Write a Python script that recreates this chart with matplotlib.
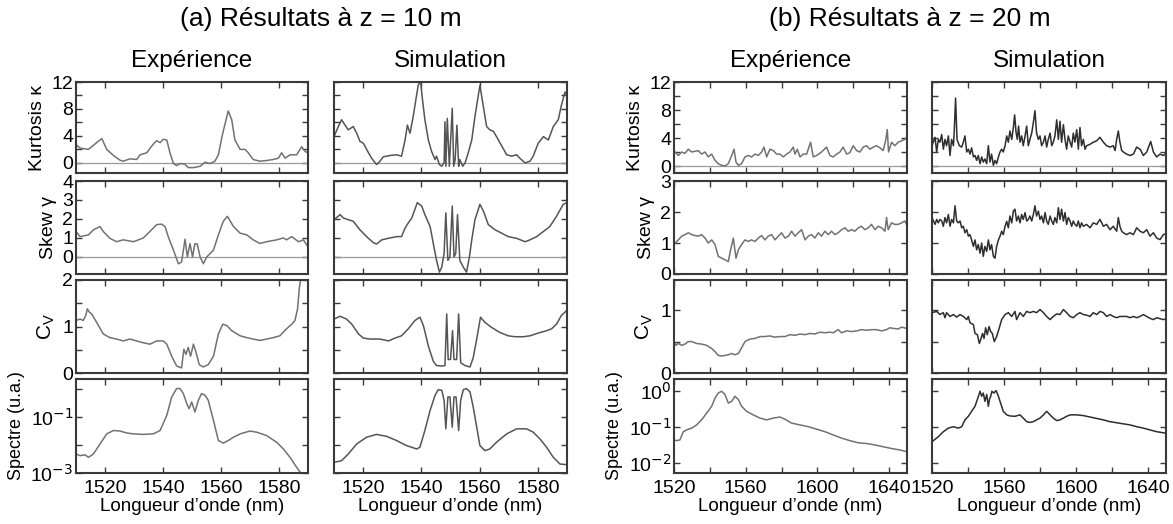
import matplotlib
matplotlib.use("Agg")
import matplotlib.pyplot as plt
import numpy as np

plt.rcParams['font.family'] = ['Liberation Sans', 'DejaVu Sans']

# ---------------- (a) z = 10 m, experiment ----------------
kurt_a_exp_x = [1510.0, 1511.4, 1514.3, 1517.1, 1518.9, 1520.6, 1522.9, 1525.2, 1526.3, 1528.6,
                1530.9, 1532.1, 1534.4, 1536.1, 1537.8, 1539.0, 1540.1, 1541.3, 1542.4, 1543.6,
                1544.7, 1545.9, 1547.6, 1548.7, 1550.5, 1552.8, 1554.5, 1556.2, 1557.9, 1559.1,
                1560.6, 1562.5, 1563.7, 1564.8, 1566.6, 1568.3, 1569.4, 1571.1, 1573.4, 1575.7,
                1578.0, 1579.8, 1580.9, 1582.1, 1583.8, 1586.1, 1587.8, 1589.0, 1590.0]
kurt_a_exp_y = [2.7, 2.2, 2.0, 3.0, 3.6, 2.0, 1.1, 0.4, 0.25, 0.6,
                0.5, 1.2, 1.5, 2.5, 3.3, 3.0, 3.5, 3.4, 1.5, -0.1,
                -0.4, -0.1, -0.2, -0.7, -0.7, -0.5, 0.1, -0.1, 0.25, 1.2,
                4.4, 7.7, 6.4, 3.4, 2.0, 2.0, 1.5, 0.5, 0.25, 0.35,
                0.5, 0.7, 1.5, 0.7, 1.2, 1.2, 2.4, 1.7, 1.5]

skew_a_exp_x = [1510.0, 1511.4, 1514.3, 1516.0, 1518.3, 1519.4, 1521.7, 1524.0, 1526.3, 1529.8,
                1533.2, 1535.5, 1537.8, 1539.5, 1540.7, 1541.8, 1543.6, 1545.3, 1546.4, 1547.6,
                1548.4, 1549.3, 1550.2, 1551.0, 1551.8, 1552.8, 1553.9, 1555.1, 1557.4, 1559.1,
                1560.8, 1562.2, 1564.3, 1566.6, 1568.9, 1571.1, 1573.4, 1575.7, 1579.2, 1581.5,
                1582.6, 1584.4, 1586.7, 1588.4, 1590.0]
skew_a_exp_y = [1.34, 1.07, 1.16, 1.43, 1.6, 1.34, 0.98, 0.8, 0.9, 0.8,
                1.0, 1.34, 1.7, 1.73, 1.6, 1.07, 0.36, -0.36, -0.27, 0.93,
                0.0, 0.7, 0.0, 0.7, 0.68, 0.0, -0.36, 0.0, 0.36, 1.16,
                1.88, 2.14, 1.6, 1.25, 1.16, 0.9, 0.71, 0.8, 0.9, 1.0,
                0.9, 1.07, 0.8, 0.9, 0.53]

cv_a_exp_x = [1510.0, 1511.4, 1512.5, 1513.4, 1513.9, 1514.6, 1515.4, 1517.1, 1519.4, 1521.7,
              1524.0, 1526.3, 1528.6, 1530.9, 1533.2, 1535.5, 1537.8, 1540.1, 1541.3, 1543.0,
              1544.7, 1546.4, 1547.2, 1547.9, 1548.7, 1549.5, 1550.5, 1551.4, 1552.5, 1553.9,
              1555.6, 1557.4, 1559.1, 1560.6, 1562.0, 1563.7, 1566.6, 1568.9, 1571.1, 1573.4,
              1575.7, 1578.0, 1580.3, 1582.6, 1584.4, 1585.5, 1586.4, 1587.0, 1587.5]
cv_a_exp_y = [1.13, 1.16, 1.13, 1.24, 1.38, 1.31, 1.27, 1.09, 0.84, 0.76,
              0.73, 0.69, 0.73, 0.69, 0.65, 0.62, 0.69, 0.69, 0.62, 0.36,
              0.15, 0.11, 0.51, 0.4, 0.55, 0.36, 0.62, 0.44, 0.18, 0.13,
              0.18, 0.36, 0.84, 1.05, 1.02, 0.91, 0.8, 0.76, 0.73, 0.7,
              0.73, 0.76, 0.8, 0.95, 1.05, 1.13, 1.38, 1.82, 2.03]

spec_a_exp_x = [1510.0, 1511.4, 1513.1, 1514.3, 1516.0, 1518.3, 1520.6, 1522.9, 1525.2, 1527.5,
                1529.8, 1533.2, 1536.7, 1539.0, 1541.3, 1543.0, 1544.7, 1545.9, 1547.0, 1548.2,
                1549.0, 1549.9, 1551.0, 1552.2, 1553.3, 1554.5, 1555.6, 1557.4, 1559.1, 1560.8,
                1562.5, 1564.3, 1566.6, 1570.0, 1572.3, 1575.7, 1579.2, 1581.5, 1583.8, 1586.1,
                1587.8]
spec_a_exp_log = [-2.32, -2.38, -2.35, -2.44, -2.32, -1.96, -1.6, -1.48, -1.5, -1.57,
                  -1.6, -1.62, -1.6, -1.48, -0.94, -0.28, 0.02, 0.02, -0.16, -0.52,
                  -0.7, -0.46, -0.82, -0.4, -0.16, -0.22, -0.4, -1.12, -1.84, -1.93,
                  -1.84, -1.72, -1.6, -1.5, -1.54, -1.66, -1.9, -2.14, -2.44, -2.8,
                  -3.04]

# ---------------- (a) z = 10 m, simulation ----------------
kurt_a_sim_x = [1510.0, 1511.5, 1512.6, 1513.8, 1514.9, 1516.6, 1517.8, 1518.9, 1520.1, 1521.2,
                1522.9, 1524.6, 1525.8, 1526.9, 1529.2, 1531.5, 1533.2, 1534.4, 1535.2, 1536.1,
                1537.2, 1538.9, 1539.7, 1540.4, 1541.2, 1542.4, 1543.5, 1544.7, 1545.2, 1546.2,
                1547.0, 1547.8, 1548.1, 1548.4, 1548.9, 1549.6, 1550.6, 1551.1, 1551.6, 1552.2,
                1552.8, 1553.2, 1554.2, 1555.0, 1556.1, 1557.3, 1558.4, 1560.1, 1561.3, 1562.4,
                1563.5, 1564.7, 1565.8, 1567.6, 1569.3, 1571.0, 1572.7, 1573.8, 1575.6, 1577.3,
                1578.4, 1580.1, 1581.9, 1583.6, 1585.3, 1587.0, 1588.1, 1589.3, 1590.0]
kurt_a_sim_y = [3.9, 5.4, 6.4, 5.6, 4.9, 5.4, 4.4, 3.2, 2.9, 2.0,
                0.7, -0.25, 0.25, 0.9, 1.1, 1.2, 1.0, 3.4, 5.6, 4.4,
                6.9, 11.5, 12.2, 9.3, 6.4, 3.4, 1.7, 0.5, 1.0, -0.25,
                -0.5, 0.0, 6.1, -0.5, 6.6, -0.5, 8.1, -0.5, 0.5, 5.6,
                -0.5, 0.5, -0.5, 0.0, 1.5, 3.4, 6.9, 11.5, 8.3, 5.4,
                4.9, 4.7, 3.9, 2.5, 1.2, 1.0, 1.2, 0.7, 0.0, 0.25,
                1.0, 2.9, 3.9, 3.4, 5.4, 6.4, 8.6, 10.5, 10.0]

skew_a_sim_x = [1510.0, 1512.1, 1513.2, 1514.9, 1516.6, 1518.9, 1521.2, 1523.5, 1524.6, 1526.4,
                1528.7, 1531.5, 1533.2, 1534.4, 1535.5, 1536.7, 1538.6, 1540.1, 1541.2, 1543.0,
                1544.3, 1545.2, 1546.2, 1547.0, 1547.8, 1548.4, 1549.1, 1549.8, 1550.6, 1551.2,
                1551.8, 1552.4, 1553.2, 1554.4, 1555.5, 1556.5, 1557.3, 1558.4, 1560.1, 1561.3,
                1563.0, 1565.3, 1567.6, 1569.8, 1572.7, 1575.6, 1577.3, 1579.6, 1581.9, 1584.1,
                1586.4, 1588.7, 1590.0]
skew_a_sim_y = [1.96, 2.23, 2.05, 1.96, 1.88, 1.43, 1.07, 0.75, 0.68, 0.9,
                0.98, 1.07, 1.07, 1.52, 1.79, 2.05, 2.86, 2.68, 2.23, 1.6,
                0.54, -0.18, -0.8, -0.54, 0.18, 2.32, -0.18, 0.0, 2.68, 0.0,
                0.18, 2.23, -0.18, -0.54, -0.8, 0.0, 0.9, 1.96, 2.77, 2.41,
                1.7, 1.43, 1.25, 1.07, 0.98, 0.8, 0.9, 1.07, 1.34, 1.6,
                2.14, 2.77, 2.86]

cv_a_sim_x = [1510.0, 1512.1, 1514.3, 1516.1, 1518.4, 1520.1, 1522.4, 1525.8, 1528.7, 1530.9,
              1533.2, 1535.5, 1537.8, 1539.5, 1540.7, 1542.4, 1544.1, 1545.2, 1547.0, 1548.1,
              1548.7, 1549.2, 1550.0, 1550.7, 1551.2, 1552.1, 1552.8, 1553.5, 1555.0, 1556.7,
              1557.8, 1559.0, 1560.3, 1561.8, 1564.1, 1567.0, 1569.8, 1572.1, 1575.0, 1577.3,
              1580.7, 1583.0, 1584.7, 1586.4, 1588.1, 1590.0]
cv_a_sim_y = [1.16, 1.22, 1.16, 1.05, 0.84, 0.75, 0.73, 0.73, 0.69, 0.75,
              0.8, 0.95, 1.13, 1.2, 1.02, 0.58, 0.25, 0.16, 0.15, 0.16,
              1.27, 0.29, 0.29, 0.91, 0.29, 0.29, 1.27, 0.22, 0.16, 0.13,
              0.33, 0.73, 1.2, 1.09, 0.98, 0.87, 0.8, 0.78, 0.78, 0.8,
              0.87, 0.91, 0.95, 1.05, 1.24, 1.35]

spec_a_sim_x = [1510.0, 1512.6, 1514.9, 1517.8, 1521.2, 1524.6, 1528.1, 1531.5, 1534.9, 1538.4,
                1539.5, 1541.2, 1543.0, 1544.7, 1545.8, 1547.0, 1547.8, 1548.4, 1549.1, 1549.8,
                1550.6, 1551.2, 1551.9, 1552.8, 1553.5, 1554.4, 1555.5, 1556.7, 1557.8, 1559.0,
                1560.1, 1561.8, 1563.5, 1565.8, 1569.3, 1572.7, 1576.1, 1578.4, 1580.7, 1583.0,
                1585.3, 1587.6, 1590.0]
spec_a_sim_log = [-2.62, -2.56, -2.32, -1.96, -1.72, -1.62, -1.69, -1.84, -2.02, -2.14,
                  -2.08, -1.48, -0.76, -0.22, -0.02, -0.04, -0.4, -1.42, -0.28, -0.28,
                  -1.36, -0.28, -0.28, -1.48, -0.4, -0.02, 0.02, -0.1, -0.64, -1.36,
                  -2.02, -2.2, -2.14, -1.9, -1.6, -1.42, -1.42, -1.54, -1.78, -2.08,
                  -2.44, -2.68, -2.7]

# ---------------- (b) z = 20 m, experiment ----------------
kurt_b_exp_x = [1520.6, 1522.4, 1524.3, 1526.1, 1528.0, 1529.9, 1531.7, 1533.6, 1535.4, 1537.3,
                1539.1, 1541.0, 1542.9, 1544.7, 1546.6, 1548.4, 1550.3, 1552.2, 1553.5, 1554.6,
                1555.9, 1557.7, 1559.6, 1561.4, 1563.3, 1565.2, 1567.0, 1568.9, 1570.2, 1571.7,
                1573.5, 1575.4, 1577.2, 1579.1, 1581.0, 1582.8, 1584.7, 1586.5, 1587.5, 1588.8,
                1590.3, 1592.1, 1594.0, 1596.2, 1597.7, 1599.6, 1602.3, 1605.1, 1607.0, 1608.8,
                1610.7, 1612.6, 1614.4, 1616.3, 1618.1, 1620.0, 1621.9, 1623.7, 1625.6, 1627.4,
                1629.3, 1631.2, 1633.0, 1634.9, 1636.7, 1638.2, 1639.0, 1639.7, 1641.4, 1643.2,
                1645.1, 1647.0, 1648.8, 1649.7]
kurt_b_exp_y = [2.0, 1.5, 2.0, 1.8, 2.4, 2.0, 2.1, 2.2, 1.7, 2.0,
                1.3, 1.7, 0.8, 0.33, 0.1, 0.0, 0.33, 1.5, 2.4, 0.56,
                0.1, 0.33, 1.3, 1.5, 1.3, 1.7, 1.5, 2.0, 2.7, 1.3,
                2.4, 2.2, 1.7, 1.7, 1.3, 1.7, 2.0, 2.7, 1.7, 2.4,
                1.3, 1.7, 1.7, 3.4, 1.3, 1.5, 2.0, 2.7, 1.5, 1.3,
                1.7, 2.0, 2.7, 1.7, 1.9, 2.9, 2.2, 2.0, 2.7, 2.9,
                2.4, 2.7, 2.9, 2.6, 2.2, 3.8, 5.2, 2.0, 3.4, 2.9,
                3.4, 3.6, 3.8, 4.1]

skew_b_exp_x = [1520.6, 1522.4, 1524.3, 1526.1, 1528.0, 1529.9, 1531.7, 1533.6, 1535.4, 1537.3,
                1539.1, 1541.0, 1542.9, 1544.7, 1546.6, 1548.4, 1550.3, 1551.6, 1553.1, 1554.6,
                1555.9, 1557.7, 1559.6, 1561.4, 1563.3, 1565.2, 1567.0, 1568.9, 1570.7, 1572.6,
                1574.5, 1576.3, 1578.2, 1580.0, 1581.9, 1583.8, 1585.6, 1587.5, 1589.3, 1591.2,
                1593.1, 1594.9, 1596.8, 1598.6, 1600.5, 1602.3, 1604.2, 1606.1, 1607.9, 1609.8,
                1611.6, 1613.5, 1615.4, 1617.2, 1619.1, 1620.9, 1622.8, 1624.6, 1626.5, 1628.4,
                1630.2, 1632.1, 1633.9, 1635.8, 1637.7, 1638.6, 1639.5, 1641.4, 1643.2, 1645.1,
                1647.0, 1648.8, 1649.7]
skew_b_exp_y = [1.0, 1.1, 1.22, 1.27, 1.33, 1.27, 1.24, 1.22, 1.27, 1.16,
                1.0, 1.1, 0.95, 0.57, 0.51, 0.46, 0.4, 0.78, 1.16, 0.51,
                0.78, 0.95, 1.1, 1.05, 1.1, 1.05, 1.16, 1.24, 1.1, 1.22,
                1.27, 1.1, 1.22, 1.33, 1.16, 1.22, 1.38, 1.22, 1.33, 1.43,
                1.1, 1.22, 1.27, 1.16, 1.33, 1.22, 1.38, 1.27, 1.38, 1.27,
                1.33, 1.43, 1.49, 1.38, 1.43, 1.38, 1.49, 1.54, 1.43, 1.49,
                1.6, 1.43, 1.54, 1.49, 1.38, 1.82, 1.43, 1.65, 1.6, 1.6,
                1.65, 1.71, 1.6]

cv_b_exp_x = [1520.0, 1521.1, 1522.4, 1524.3, 1526.1, 1528.0, 1529.9, 1532.6, 1535.4, 1538.2,
              1541.0, 1542.9, 1544.7, 1546.6, 1548.4, 1550.3, 1552.2, 1554.0, 1555.9, 1557.7,
              1559.6, 1562.4, 1565.2, 1568.0, 1570.7, 1573.5, 1576.3, 1579.1, 1581.9, 1584.7,
              1587.5, 1590.3, 1593.0, 1595.8, 1598.6, 1601.4, 1604.2, 1607.0, 1608.8, 1611.6,
              1613.5, 1616.3, 1619.1, 1621.9, 1624.6, 1627.4, 1630.2, 1633.0, 1635.8, 1638.6,
              1640.4, 1642.3, 1645.1, 1647.0, 1649.7]
cv_b_exp_y = [0.5, 0.44, 0.47, 0.44, 0.46, 0.5, 0.5, 0.47, 0.46, 0.44,
              0.39, 0.34, 0.28, 0.27, 0.28, 0.29, 0.31, 0.29, 0.31, 0.4,
              0.5, 0.54, 0.55, 0.58, 0.58, 0.59, 0.57, 0.58, 0.58, 0.61,
              0.6, 0.62, 0.61, 0.63, 0.62, 0.65, 0.64, 0.65, 0.64, 0.69,
              0.64, 0.67, 0.66, 0.67, 0.69, 0.68, 0.69, 0.69, 0.67, 0.69,
              0.72, 0.71, 0.7, 0.73, 0.71]

spec_b_exp_x = [1520.0, 1521.5, 1523.3, 1525.2, 1527.1, 1529.9, 1532.6, 1535.4, 1538.2, 1541.0,
                1542.9, 1544.7, 1546.6, 1548.4, 1550.3, 1552.2, 1554.0, 1555.9, 1557.7, 1560.5,
                1564.2, 1568.0, 1571.7, 1575.4, 1579.1, 1581.9, 1585.6, 1590.3, 1594.9, 1599.6,
                1604.2, 1608.8, 1613.5, 1618.1, 1622.8, 1627.4, 1632.1, 1636.7, 1641.4, 1646.0,
                1650.0]
spec_b_exp_log = [-1.36, -1.38, -1.36, -1.13, -1.08, -1.03, -0.94, -0.8, -0.61, -0.42,
                  -0.19, -0.05, 0.0, -0.09, -0.33, -0.28, -0.14, -0.23, -0.42, -0.56,
                  -0.66, -0.75, -0.8, -0.75, -0.72, -0.78, -0.89, -0.94, -0.99, -1.06,
                  -1.13, -1.22, -1.31, -1.38, -1.44, -1.46, -1.5, -1.55, -1.6, -1.64,
                  -1.69]

# ---------------- (b) z = 20 m, simulation ----------------
kurt_b_sim_x = [1520.0, 1521.7, 1522.6, 1523.5, 1524.4, 1525.4, 1526.3, 1527.2, 1528.1, 1529.1,
                1530.0, 1530.9, 1531.9, 1532.4, 1533.1, 1533.9, 1535.2, 1536.5, 1537.4, 1538.3,
                1539.3, 1540.2, 1541.1, 1542.0, 1543.0, 1543.9, 1544.8, 1545.7, 1546.7, 1547.6,
                1548.5, 1549.4, 1550.4, 1551.3, 1552.2, 1553.1, 1554.1, 1555.0, 1555.9, 1556.9,
                1557.8, 1558.7, 1559.6, 1560.6, 1561.5, 1562.4, 1563.3, 1564.3, 1565.2, 1565.9,
                1566.7, 1567.4, 1568.1, 1568.9, 1569.8, 1570.7, 1571.7, 1572.6, 1573.5, 1574.4,
                1575.4, 1576.3, 1577.2, 1578.1, 1579.1, 1580.0, 1580.9, 1581.9, 1582.8, 1583.7,
                1584.6, 1585.6, 1586.5, 1587.4, 1588.3, 1589.3, 1590.2, 1591.1, 1592.0, 1593.0,
                1593.9, 1594.8, 1595.7, 1596.7, 1597.6, 1598.5, 1599.4, 1600.4, 1601.3, 1602.2,
                1603.1, 1604.1, 1605.0, 1605.9, 1607.8, 1609.6, 1611.5, 1613.3, 1615.2, 1617.0,
                1618.9, 1620.7, 1621.7, 1622.6, 1623.5, 1624.4, 1625.4, 1626.3, 1628.1, 1630.0,
                1631.9, 1633.7, 1635.6, 1637.4, 1639.3, 1641.5, 1643.0, 1644.8, 1646.7, 1648.5,
                1650.0]
kurt_b_sim_y = [2.9, 4.1, 2.0, 3.8, 3.4, 4.5, 2.4, 3.8, 2.9, 4.3,
                1.5, 3.8, 2.9, 5.2, 9.7, 3.8, 2.9, 2.7, 3.4, 4.3,
                2.0, 2.4, 1.7, 2.6, 1.3, 1.5, 0.8, 1.5, 0.33, 1.3,
                0.56, 1.0, 0.33, 2.9, 0.56, 1.7, 0.1, 0.8, 0.33, 1.3,
                2.0, 2.4, 2.0, 2.9, 4.3, 3.4, 5.0, 3.8, 5.5, 7.3,
                4.8, 3.8, 5.7, 3.4, 4.3, 2.9, 4.3, 5.7, 2.9, 3.8,
                4.7, 6.2, 7.9, 4.7, 3.8, 4.3, 2.9, 3.4, 4.3, 2.7,
                3.8, 4.7, 2.9, 3.4, 4.3, 6.6, 3.8, 6.4, 3.4, 5.9,
                3.8, 2.4, 4.3, 3.4, 2.7, 4.7, 3.4, 5.2, 2.4, 5.5,
                2.9, 3.8, 2.4, 2.9, 3.1, 3.4, 3.6, 4.1, 3.4, 2.9,
                2.7, 2.9, 2.2, 3.8, 5.0, 3.4, 2.2, 2.0, 1.7, 1.5,
                1.7, 2.7, 2.4, 1.5, 2.0, 3.5, 2.0, 1.3, 1.7, 1.5,
                1.8]

skew_b_sim_x = [1520.0, 1521.7, 1522.6, 1523.5, 1524.4, 1525.4, 1526.3, 1527.2, 1528.1, 1529.1,
                1530.0, 1530.9, 1531.9, 1532.8, 1533.7, 1534.6, 1535.6, 1536.5, 1537.4, 1538.3,
                1539.3, 1540.2, 1541.1, 1542.0, 1543.0, 1543.9, 1544.8, 1545.7, 1546.7, 1547.6,
                1548.5, 1549.4, 1550.4, 1551.3, 1552.2, 1553.1, 1554.1, 1555.0, 1555.9, 1556.9,
                1557.8, 1558.7, 1559.6, 1560.6, 1561.5, 1562.4, 1563.3, 1564.3, 1565.2, 1566.1,
                1567.0, 1568.0, 1568.9, 1569.8, 1570.7, 1571.7, 1572.6, 1573.5, 1574.4, 1575.4,
                1576.3, 1577.2, 1578.1, 1579.1, 1580.0, 1580.9, 1581.9, 1582.8, 1583.7, 1584.6,
                1585.6, 1586.5, 1587.4, 1588.3, 1589.3, 1590.2, 1591.1, 1592.0, 1593.0, 1593.9,
                1594.8, 1595.7, 1596.7, 1597.6, 1598.5, 1599.4, 1600.4, 1601.3, 1602.2, 1603.1,
                1604.1, 1605.9, 1607.8, 1609.6, 1611.5, 1613.3, 1614.3, 1615.2, 1617.0, 1618.9,
                1620.7, 1622.6, 1623.5, 1624.4, 1625.4, 1626.3, 1628.1, 1630.0, 1631.9, 1633.7,
                1635.6, 1637.4, 1639.3, 1641.1, 1643.0, 1644.8, 1646.7, 1648.5, 1650.0]
skew_b_sim_y = [1.82, 1.6, 1.76, 1.65, 1.76, 1.71, 1.54, 1.82, 1.65, 1.92,
                1.54, 1.76, 1.65, 2.2, 1.71, 1.65, 1.71, 1.49, 1.54, 1.33,
                1.43, 1.22, 1.27, 1.1, 0.89, 1.1, 0.78, 0.95, 0.67, 1.0,
                0.57, 0.89, 0.73, 1.1, 0.78, 0.95, 0.57, 0.51, 0.89, 1.1,
                1.22, 1.38, 1.27, 1.54, 1.7, 1.49, 1.87, 1.65, 2.03, 2.09,
                1.71, 1.87, 1.65, 1.92, 1.76, 1.98, 1.71, 1.76, 1.87, 1.71,
                1.92, 2.2, 1.87, 2.03, 1.76, 1.87, 1.65, 1.98, 1.71, 1.6,
                1.87, 1.71, 1.6, 1.82, 1.65, 2.14, 1.76, 2.09, 1.71, 1.98,
                1.6, 1.82, 1.71, 1.54, 1.71, 1.6, 1.54, 1.71, 1.49, 1.65,
                1.54, 1.6, 1.49, 1.65, 1.6, 1.76, 1.65, 1.54, 1.6, 1.43,
                1.54, 1.38, 1.82, 1.54, 1.38, 1.33, 1.27, 1.33, 1.27, 1.49,
                1.38, 1.33, 1.43, 1.22, 1.33, 1.16, 1.11, 1.27, 1.3]

cv_b_sim_x = [1520.0, 1522.6, 1524.4, 1526.3, 1527.2, 1528.1, 1530.0, 1531.9, 1533.7, 1535.6,
              1537.4, 1539.3, 1540.2, 1541.1, 1543.0, 1543.9, 1545.2, 1546.3, 1547.0, 1548.1,
              1548.9, 1549.8, 1550.7, 1551.7, 1552.6, 1553.5, 1554.6, 1555.9, 1557.4, 1558.7,
              1560.6, 1562.4, 1564.3, 1566.1, 1567.0, 1568.9, 1570.7, 1572.6, 1574.4, 1576.3,
              1578.1, 1580.0, 1581.9, 1583.7, 1585.6, 1587.4, 1589.3, 1591.1, 1593.0, 1594.8,
              1596.7, 1598.5, 1600.4, 1602.2, 1604.1, 1605.9, 1607.8, 1609.6, 1611.5, 1613.3,
              1615.2, 1617.0, 1618.9, 1620.7, 1622.6, 1624.4, 1628.1, 1630.0, 1631.9, 1633.7,
              1635.6, 1637.4, 1639.3, 1641.1, 1643.0, 1644.8, 1648.5, 1650.0]
cv_b_sim_y = [0.96, 0.98, 0.93, 0.96, 0.88, 0.96, 0.9, 0.93, 0.89, 0.93,
              0.9, 0.85, 0.9, 0.8, 0.77, 0.63, 0.61, 0.47, 0.53, 0.63,
              0.55, 0.72, 0.61, 0.74, 0.66, 0.63, 0.5, 0.58, 0.72, 0.85,
              0.93, 0.96, 0.9, 0.98, 0.85, 0.96, 0.9, 0.98, 0.96, 0.98,
              0.96, 1.01, 0.96, 0.9, 0.85, 0.9, 0.94, 0.93, 1.01, 0.96,
              0.9, 0.88, 0.93, 0.96, 0.93, 0.92, 0.9, 0.96, 0.93, 0.98,
              0.96, 0.9, 0.93, 0.9, 0.88, 0.9, 0.9, 0.88, 0.9, 0.88,
              0.9, 0.93, 0.9, 0.87, 0.85, 0.88, 0.85, 0.86]

spec_b_sim_x = [1520.0, 1523.5, 1526.3, 1529.1, 1531.9, 1534.6, 1536.5, 1538.3, 1540.2, 1542.0,
                1543.9, 1545.2, 1546.7, 1547.6, 1548.5, 1549.4, 1550.4, 1551.3, 1551.9, 1552.6,
                1553.3, 1554.4, 1555.6, 1556.9, 1558.1, 1559.6, 1561.5, 1563.3, 1566.1, 1568.9,
                1570.7, 1572.6, 1574.4, 1576.3, 1578.1, 1580.0, 1581.9, 1583.7, 1585.6, 1587.4,
                1589.3, 1591.1, 1593.0, 1594.8, 1596.7, 1600.4, 1604.1, 1607.8, 1611.5, 1615.2,
                1618.9, 1622.6, 1626.3, 1630.0, 1633.7, 1637.4, 1641.1, 1644.8, 1648.5, 1650.0]
spec_b_sim_log = [-1.41, -1.27, -1.13, -1.03, -0.99, -1.03, -0.99, -0.8, -0.7, -0.56,
                  -0.42, -0.23, 0.0, -0.14, -0.05, -0.28, -0.09, -0.42, -0.23, -0.14,
                  0.0, -0.05, 0.02, -0.14, -0.33, -0.56, -0.66, -0.69, -0.7, -0.66,
                  -0.75, -0.85, -0.87, -0.85, -0.8, -0.75, -0.66, -0.56, -0.66, -0.75,
                  -0.82, -0.8, -0.75, -0.7, -0.66, -0.66, -0.68, -0.72, -0.76, -0.8,
                  -0.85, -0.88, -0.91, -0.94, -0.99, -1.03, -1.08, -1.13, -1.16, -1.17]

# ---------------- layout (pixels of a 1173 x 524 canvas) ----------------
W, H = 1173, 524
col_px = [(76, 308), (334, 567), (674, 907), (932, 1166)]
row_px = [(82, 173), (181, 274), (280, 373), (379, 473)]

exp_color = '#727272'
sim_a_color = '#555555'
sim_b_color = '#2e2e2e'
zero_color = '#9a9a9a'

fig = plt.figure(figsize=(W / 100, H / 100), dpi=100)


def make_ax(col, row):
    x0, x1 = col_px[col]
    y0, y1 = row_px[row]
    ax = fig.add_axes([x0 / W, 1 - y1 / H, (x1 - x0) / W, (y1 - y0) / H])
    for s in ax.spines.values():
        s.set_color('#3a3a3a')
        s.set_linewidth(1.5)
    ax.tick_params(direction='in', top=True, right=True, length=4.5, width=1.0,
                   color='#3a3a3a', labelsize=14, pad=2)
    ax.tick_params(axis='x', pad=5)
    return ax


ylabels = ['Kurtosis \u03ba', 'Skew \u03b3', 'C$_\\mathregular{V}$', 'Spectre (u.a.)']
ylabel_sizes = [14, 14, 15, 13]

groups = [
    dict(cols=(0, 1), xlim=(1510, 1590), xticks=[1520, 1540, 1560, 1580],
         xlabels=['1520', '1540', '1560', '1580'],
         klim=(-1.5, 12), slim=(-0.9, 4), sticks=[0, 1, 2, 3, 4], slabels=['0', '1', '2', '3', '4'],
         clim=(0, 2), cticks=[0, 0.5, 1, 1.5, 2], clabels=['0', '', '1', '', '2'],
         plim=(1e-3, 2.3), pticks=[1e-3, 1e-2, 1e-1, 1e0],
         plabels=['10$^{-3}$', '', '10$^{-1}$', ''],
         data=[(kurt_a_exp_x, kurt_a_exp_y, skew_a_exp_x, skew_a_exp_y, cv_a_exp_x, cv_a_exp_y,
                spec_a_exp_x, spec_a_exp_log, exp_color),
               (kurt_a_sim_x, kurt_a_sim_y, skew_a_sim_x, skew_a_sim_y, cv_a_sim_x, cv_a_sim_y,
                spec_a_sim_x, spec_a_sim_log, sim_a_color)],
         zero_skew=True),
    dict(cols=(2, 3), xlim=(1520, 1650), xticks=[1520, 1540, 1560, 1580, 1600, 1620, 1640],
         xlabels=['1520', '', '1560', '', '1600', '', '1640'],
         klim=(-1, 12), slim=(0, 3), sticks=[0, 1, 2, 3], slabels=['0', '1', '2', '3'],
         clim=(0, 1.48), cticks=[0, 0.5, 1], clabels=['0', '', '1'],
         plim=(5.2e-3, 2.2), pticks=[1e-2, 1e-1, 1e0],
         plabels=['10$^{-2}$', '10$^{-1}$', '10$^{0}$'],
         data=[(kurt_b_exp_x, kurt_b_exp_y, skew_b_exp_x, skew_b_exp_y, cv_b_exp_x, cv_b_exp_y,
                spec_b_exp_x, spec_b_exp_log, exp_color),
               (kurt_b_sim_x, kurt_b_sim_y, skew_b_sim_x, skew_b_sim_y, cv_b_sim_x, cv_b_sim_y,
                spec_b_sim_x, spec_b_sim_log, sim_b_color)],
         zero_skew=False),
]

for g in groups:
    for k, col in enumerate(g['cols']):
        kx, ky, sx, sy, cx, cy, px, plog, color = g['data'][k]
        first = (k == 0)
        axes = [make_ax(col, r) for r in range(4)]

        axes[0].axhline(0, color=zero_color, lw=0.9)
        axes[0].plot(kx, ky, color=color, lw=1.1)
        axes[0].set_ylim(*g['klim'])
        axes[0].set_yticks([0, 2, 4, 6, 8, 10, 12])
        axes[0].set_yticklabels(['0', '', '4', '', '8', '', '12'])

        if g['zero_skew']:
            axes[1].axhline(0, color=zero_color, lw=0.9)
        axes[1].plot(sx, sy, color=color, lw=1.1)
        axes[1].set_ylim(*g['slim'])
        axes[1].set_yticks(g['sticks'])
        axes[1].set_yticklabels(g['slabels'])

        axes[2].plot(cx, cy, color=color, lw=1.1)
        axes[2].set_ylim(*g['clim'])
        axes[2].set_yticks(g['cticks'])
        axes[2].set_yticklabels(g['clabels'])

        axes[3].plot(px, np.power(10.0, plog), color=color, lw=1.1)
        axes[3].set_yscale('log')
        axes[3].set_ylim(*g['plim'])
        axes[3].yaxis.set_minor_locator(matplotlib.ticker.NullLocator())
        axes[3].set_yticks(g['pticks'])
        axes[3].set_yticklabels(g['plabels'])

        for r, ax in enumerate(axes):
            ax.set_xlim(*g['xlim'])
            ax.set_xticks(g['xticks'])
            if r == 3:
                ax.set_xticklabels(g['xlabels'])
                ax.set_xlabel("Longueur d\u2019onde (nm)", fontsize=13.5, labelpad=1)
            else:
                ax.set_xticklabels([])
            if first:
                ax.set_ylabel(ylabels[r], fontsize=ylabel_sizes[r], labelpad=4)
            else:
                ax.set_yticklabels([])

        xc = (col_px[col][0] + col_px[col][1]) / 2
        fig.text(xc / W, 1 - 61 / H, 'Exp\u00e9rience' if first else 'Simulation',
                 ha='center', va='center', fontsize=17.5)

fig.text(321 / W, 1 - 19 / H, '(a) R\u00e9sultats \u00e0 z = 10 m', ha='center', va='center', fontsize=19)
fig.text(910 / W, 1 - 19 / H, '(b) R\u00e9sultats \u00e0 z = 20 m', ha='center', va='center', fontsize=19)

fig.savefig('out.png', dpi=100)
